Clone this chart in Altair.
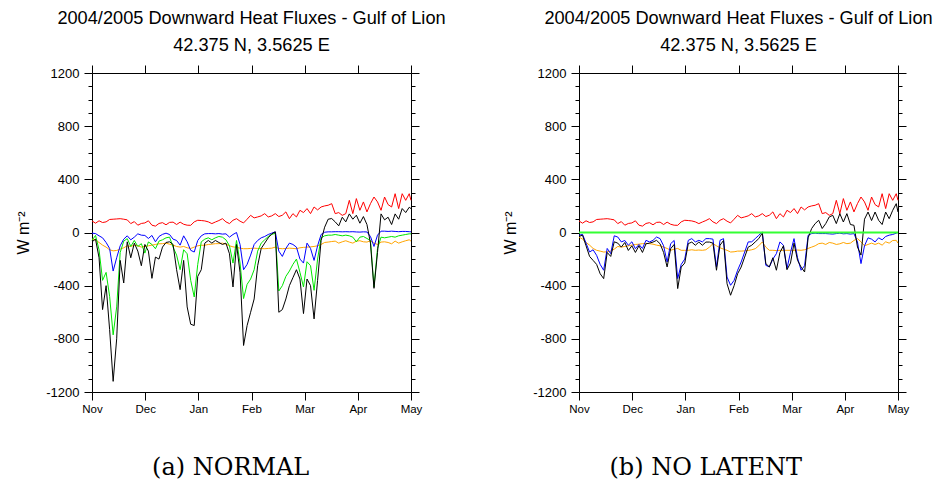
import altair as alt
import pandas as pd

# day index since 1 Nov 2004 (every 2nd day, plus 1 May)
days = list(range(0, 181, 2)) + [181]

month_labels = ["Nov", "Dec", "Jan", "Feb", "Mar", "Apr", "May"]

red_sw = [87, 70, 88, 75, 80, 98, 100, 102, 104, 100,
          95, 67, 82, 55, 68, 72, 88, 55, 48, 68,
          74, 58, 76, 78, 60, 78, 62, 55, 54, 80,
          92, 90, 87, 80, 67, 79, 90, 104, 80, 67,
          92, 104, 85, 72, 100, 129, 110, 117, 125, 142,
          117, 125, 142, 120, 130, 155, 104, 142, 117, 167,
          150, 180, 142, 192, 170, 192, 200, 205, 217, 142,
          150, 129, 142, 242, 142, 255, 167, 230, 155, 217,
          267, 230, 167, 267, 210, 192, 292, 180, 292, 242,
          292, 242]

orange_a = [-50, -55, -75, -95, -110, -130, -138, -135, -125, -115,
            -100, -105, -95, -100, -110, -104, -100, -95, -90, -85,
            -84, -80, -88, -95, -105, -110, -105, -115, -120, -110,
            -100, -96, -96, -90, -88, -84, -84, -80, -88, -100,
            -108, -112, -118, -122, -122, -120, -118, -120, -121, -122,
            -120, -118, -110, -120, -122, -120, -118, -120, -122, -115,
            -112, -110, -108, -105, -100, -90, -75, -72, -68, -65,
            -80, -70, -62, -72, -80, -65, -62, -70, -72, -62,
            -80, -90, -72, -70, -75, -85, -65, -80, -70, -62,
            -55, -65]

blue_a = [-5, -8, -25, -40, -75, -120, -290, -190, -100, -50,
          -25, -55, -35, -10, -20, -22, -45, -22, -70, -30,
          -14, -5, -15, -50, -60, -95, -25, -70, -134, -147,
          -60, -25, -10, -8, -8, -10, -8, -12, -10, -35,
          -15, 0, -90, -280, -240, -170, -90, -60, -40, -30,
          -15, -5, 5, -140, -180, -120, -80, -90, -110, -200,
          -230, -80, -120, -210, -100, -15, 2, 5, 5, 6,
          6, 5, 6, 5, 6, 4, 3, 5, 4, -30,
          -105, -20, 10, 10, 8, 10, 8, 6, 8, 8,
          6, 5]

green_a = [-59, -22, -130, -360, -300, -480, -770, -560, -150, -65,
           -46, -105, -60, -105, -84, -155, -71, -90, -122, -65,
           -55, -40, -35, -110, -170, -280, -130, -160, -360, -485,
           -240, -70, -50, -40, -55, -40, -30, -35, -55, -100,
           -230, -60, -230, -497, -390, -350, -280, -140, -80, -55,
           -30, -15, -5, -440, -400, -330, -290, -240, -200, -300,
           -410, -220, -250, -435, -200, -40, -25, -20, -20, -15,
           -20, -25, -20, -25, -35, -70, -35, -30, -45, -60,
           -410, -120, -35, -40, -35, -30, -35, -25, -20, -15,
           -10, -10]

black_a = [-70, -50, -190, -580, -400, -730, -1120, -800, -210, -380,
           -70, -190, -80, -140, -250, -90, -140, -345, -185, -200,
           -110, -75, -70, -90, -280, -430, -210, -560, -690, -700,
           -330, -280, -80, -60, -80, -60, -75, -90, -80, -160,
           -410, -90, -300, -850, -700, -600, -500, -250, -120, -80,
           -40, -10, 5, -600, -580, -500, -400, -340, -280, -350,
           -610, -350, -400, -650, -360, -60, 40, 100, 105, 80,
           50, 115, 80, 140, 100, 130, 70, 120, 60, -80,
           -420, -150, 140, 95, 115, 60, 140, 100, 180, 150,
           190, 180]

orange_b = [-34, -50, -75, -95, -120, -134, -140, -147, -145, -140,
            -125, -105, -110, -105, -100, -95, -90, -88, -84, -82,
            -84, -88, -95, -100, -110, -120, -134, -125, -120, -134,
            -134, -134, -130, -134, -132, -134, -130, -110, -84, -100,
            -115, -125, -134, -147, -145, -140, -140, -138, -135, -130,
            -122, -100, -71, -110, -134, -134, -136, -134, -134, -134,
            -134, -134, -132, -134, -130, -120, -110, -100, -84, -80,
            -90, -75, -80, -90, -85, -75, -84, -80, -60, -46,
            -70, -100, -90, -80, -90, -80, -95, -70, -80, -60,
            -59, -80]

blue_b = [-21, -14, -80, -147, -130, -172, -240, -284, -120, -159,
          -25, -34, -71, -60, -96, -70, -122, -90, -120, -59,
          -71, -59, -34, -46, -100, -222, -84, -60, -347, -240,
          -200, -59, -46, -71, -59, -71, -46, -46, -50, -259,
          -59, -46, -335, -397, -360, -284, -222, -147, -71, -70,
          -46, -21, 4, -247, -259, -200, -159, -71, -96, -272,
          -150, -46, -190, -284, -250, -21, -8, -5, -8, -8,
          -8, -10, -12, -8, -5, -10, -8, -12, -8, -71,
          -234, -100, -40, -50, -71, -40, -55, -30, -20, -15,
          -5, 0]

green_b = [0, 0, 0, 0, 0, 0, 0, 0, 0, 0,
           0, 0, 0, 0, 0, 0, 0, 0, 0, 0,
           0, 0, 0, 0, 0, 0, 0, 0, 0, 0,
           0, 0, 0, 0, 0, 0, 0, 0, 0, 0,
           0, 0, 0, 0, 0, 0, 0, 0, 0, 0,
           0, 0, 0, 0, 0, 0, 0, 0, 0, 0,
           0, 0, 0, 0, 0, 0, 0, 0, 0, 0,
           0, 0, 0, 0, 0, 0, 0, 0, 0, 0,
           0, 0, 0, 0, 0, 0, 0, 0, 0, 0,
           0, 0]

black_b = [-30, -20, -100, -180, -210, -240, -310, -347, -150, -180,
           -70, -80, -110, -75, -135, -100, -150, -100, -150, -85,
           -80, -72, -59, -85, -150, -259, -122, -90, -422, -260,
           -230, -84, -72, -96, -72, -96, -72, -72, -80, -284,
           -96, -60, -385, -472, -400, -310, -260, -185, -110, -96,
           -71, -46, -4, -234, -259, -190, -284, -150, -100, -280,
           -230, -80, -209, -260, -297, -40, 30, 67, 92, 30,
           67, 117, 129, 67, 142, 79, 142, 60, 54, -109,
           -170, 100, 154, 90, 154, 92, 60, 154, 104, 167,
           217, 154]

series_names = ["Shortwave", "Longwave", "Latent", "Sensible", "Net"]
series_colors = ["#ff0000", "#ffa500", "#00e600", "#0000ff", "#000000"]


def make_df(cols):
    rows = []
    for name, vals in zip(series_names, cols):
        for d, v in zip(days, vals):
            rows.append({"day": d, "value": v, "series": name})
    return pd.DataFrame(rows)


df_a = make_df([red_sw, orange_a, green_a, blue_a, black_a])
df_b = make_df([red_sw, orange_b, green_b, blue_b, black_b])

span = days[-1]
x_ticks = [span * i / 6 for i in range(7)]
y_all = list(range(-1200, 1201, 100))

FONT = "Liberation Sans"
xs = alt.Scale(domain=[0, span], nice=False, zero=False)
ys = alt.Scale(domain=[-1200, 1200], nice=False)
cscale = alt.Scale(domain=series_names, range=series_colors)

tick_size_y = {"condition": {"test": "datum.value % 400 == 0", "value": 8}, "value": 4}


def panel(df, caption, cap_dx, thick_green):
    x_bottom = alt.Axis(values=x_ticks, orient="bottom", title=None,
                        labelExpr="['Nov','Dec','Jan','Feb','Mar','Apr','May'][round(datum.value / (%f / 6))]" % span,
                        tickSize=8, labelPadding=3, labelFontSize=11.5, labelFont=FONT,
                        labelColor="black", tickColor="black", domainColor="black",
                        grid=False, labelFlush=False)
    y_left = alt.Axis(values=y_all, orient="left", title="W m⁻²", titleFont=FONT,
                      titleFontSize=16, titleFontWeight="normal", titleColor="black",
                      titlePadding=14,
                      labelExpr="datum.value % 400 == 0 ? '' + datum.value : ''",
                      tickSize=tick_size_y, labelPadding=5, labelFontSize=13,
                      labelFont=FONT, labelColor="black", tickColor="black",
                      domainColor="black", grid=False)
    x_top = alt.Axis(values=x_ticks, orient="top", title=None, labels=False,
                     tickSize=8, tickColor="black", domainColor="black", grid=False)
    y_right = alt.Axis(values=y_all, orient="right", title=None, labels=False,
                       tickSize=tick_size_y, tickColor="black", domainColor="black",
                       grid=False)

    X = alt.X("day:Q", scale=xs, axis=x_bottom)
    Y = alt.Y("value:Q", scale=ys, axis=y_left)
    base_df = df if not thick_green else df[df["series"] != "Latent"]
    lines = alt.Chart(base_df).mark_line(strokeWidth=1).encode(
        x=X, y=Y,
        color=alt.Color("series:N", scale=cscale, legend=None),
    )
    layers = [lines]
    if thick_green:
        zero = alt.Chart(df[df["series"] == "Latent"]).mark_line(
            strokeWidth=2, color="#33ff33").encode(x=X, y=Y)
        layers.append(zero)
    frame = alt.Chart(df).mark_line(opacity=0).encode(
        x=alt.X("day:Q", scale=xs, axis=x_top),
        y=alt.Y("value:Q", scale=ys, axis=y_right),
    )
    inner = alt.layer(*layers)
    p = alt.layer(inner, frame).resolve_axis(x="independent", y="independent").properties(
        width=319, height=319,
        title=alt.TitleParams(
            ["2004/2005 Downward Heat Fluxes - Gulf of Lion", "42.375 N, 3.5625 E"],
            frame="group", anchor="middle", font=FONT, fontSize=18.2, fontWeight="normal",
            color="black", lineHeight=27, offset=9),
    )
    return alt.vconcat(p, title=alt.TitleParams(caption, orient="bottom", anchor="middle",
                                                font="DejaVu Serif", fontSize=24,
                                                fontWeight="normal", color="black",
                                                offset=41, dx=cap_dx))


chart = alt.hconcat(
    panel(df_a, "(a) NORMAL", 0, False),
    panel(df_b, "(b) NO LATENT", -12, True),
    spacing=56,
).properties(
    padding={"left": 15, "top": 9, "right": 0, "bottom": 0},
    background="white",
).configure_view(stroke=None)

chart.save("out.html", embed_options={"renderer": "svg", "actions": False})
